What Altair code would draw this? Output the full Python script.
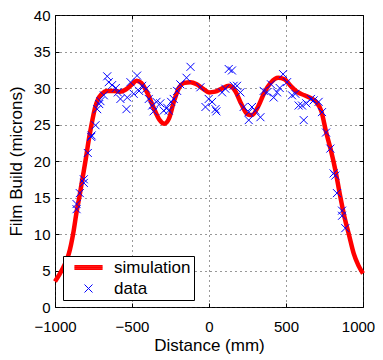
import altair as alt
import pandas as pd

FONT = "Liberation Sans"

# simulation curve
sim_x = [-1000, -970, -940, -910, -880, -860, -840, -820, -800, -780, -760, -740, -720, -700,
         -660, -620, -580, -540, -500, -470, -440, -400, -360, -320, -290, -260, -230, -200,
         -160, -120, -80, -40, 0, 40, 80, 130, 170, 210, 250, 280, 320, 360, 400, 450, 490,
         530, 570, 620, 670, 700, 730, 760, 790, 820, 850, 880, 910, 940, 970, 1000]
sim_y = [3.5, 4.5, 5.7, 7.3, 10.3, 13.0, 15.3, 17.8, 20.3, 23.0, 25.3, 27.3, 28.5, 29.1,
         29.6, 29.6, 29.5, 29.8, 30.5, 31.0, 30.7, 29.3, 27.3, 25.6, 25.1, 25.8, 28.0, 29.8,
         30.7, 30.8, 30.5, 29.9, 29.4, 29.5, 29.9, 30.3, 29.6, 27.8, 26.4, 26.3, 27.5, 29.4,
         30.7, 31.4, 31.2, 30.3, 29.5, 29.0, 28.5, 28.0, 26.8, 24.0, 21.6, 18.8, 15.4, 12.3,
         9.8, 7.3, 5.7, 4.6]

# measured data
data_x = [-860, -860, -839, -813, -813, -787, -765, -762, -737, -726, -713, -705, -683,
          -661, -651, -629, -605, -592, -575, -536, -531, -510, -489, -467, -454, -434,
          -408, -391, -369, -360, -341, -316, -294, -272, -261, -246, -229, -207, -186,
          -146, -120, -56, -23, -2, 20, 42, 48, 85, 106, 128, 149, 160, 182, 204, 225, 258,
          258, 279, 301, 334, 355, 377, 403, 420, 442, 459, 481, 507, 539, 561, 582, 604,
          615, 632, 662, 679, 712, 734, 760, 788, 809, 820, 831, 864, 864, 885]
data_y = [14.1, 13.4, 15.6, 17.5, 17.0, 21.1, 23.3, 23.5, 24.9, 27.1, 27.8, 28.2, 29.0,
          31.6, 30.8, 30.4, 30.0, 29.4, 28.5, 27.1, 28.7, 30.8, 29.2, 31.7, 29.6, 30.3,
          29.9, 28.5, 27.6, 26.8, 28.1, 27.9, 26.9, 27.3, 26.9, 28.1, 28.5, 29.6, 30.5,
          31.4, 32.9, 30.1, 27.4, 28.5, 28.1, 27.1, 26.8, 29.4, 29.9, 32.6, 32.4, 30.3,
          30.3, 29.4, 27.4, 26.7, 25.6, 27.4, 26.9, 26.0, 29.6, 29.4, 30.5, 28.7, 29.4,
          30.0, 31.9, 30.8, 29.0, 29.2, 27.6, 27.6, 25.6, 27.9, 28.5, 28.3, 28.1, 26.7,
          23.9, 21.7, 18.3, 18.0, 15.6, 13.2, 12.5, 10.8]

series_names = ["simulation", "data"]
series_colors = ["#ff0000", "#0000ff"]
x_ticks = [-1000, -500, 0, 500, 1000]
y_ticks = [0, 5, 10, 15, 20, 25, 30, 35, 40]

sim_df = pd.DataFrame({"x": sim_x, "y": sim_y, "series": "simulation"})
data_df = pd.DataFrame({"x": data_x, "y": data_y, "series": "data"})

xscale = alt.Scale(domain=[-1000, 1000], nice=False, zero=False)
yscale = alt.Scale(domain=[0, 40], nice=False)
color_scale = alt.Scale(domain=series_names, range=series_colors)
# legend glyphs: a thick bar (stacked strokes) for the line, an "x" for the data
bar_path = "".join(f"M-3.5,{v}L3.5,{v}" for v in (-0.5, -0.33, -0.17, 0, 0.17, 0.33, 0.5))
shape_scale = alt.Scale(domain=series_names, range=[bar_path, "M-1,-1L1,1M-1,1L1,-1"])

grid_style = dict(grid=True, gridColor="#333333", gridDash=[1, 4], gridWidth=1)

main_x = alt.Axis(orient="bottom", values=x_ticks, format="d", ticks=False, tickSize=0,
                  domain=False, labelFontSize=15, labelPadding=12, labelFont=FONT,
                  labelColor="black", labelFlush=False, labelOverlap=False,
                  labelOffset={"condition": {"test": "datum.value === 1000", "value": -5},
                               "value": 0},
                  title="Distance (mm)", titleFont=FONT, titleFontSize=17,
                  titleFontWeight="normal", titleColor="black", titlePadding=3, **grid_style)
main_y = alt.Axis(orient="left", values=y_ticks, format="d", ticks=False, tickSize=0,
                  domain=False, labelFontSize=15, labelPadding=5, labelFont=FONT,
                  labelColor="black", labelFlush=False, labelOverlap=False,
                  title="Film Build (microns)", titleFont=FONT, titleFontSize=17,
                  titleFontWeight="normal", titleColor="black", titlePadding=8, **grid_style)

def tick_axis(orient, vals):
    return alt.Axis(orient=orient, values=vals, labels=False, title=None, grid=False,
                    domain=False, ticks=True, tickSize=4, offset=-4, tickColor="black",
                    tickWidth=1)

legend = alt.Legend(orient="none", legendX=8, legendY=241, title=None, fillColor="white",
                    strokeColor="black", padding=3, symbolOffset=14, labelOffset=17,
                    labelFontSize=17, labelFont=FONT, labelColor="black", rowPadding=3,
                    symbolStrokeWidth=1, symbolSize=64, symbolOpacity=1)

line = alt.Chart(sim_df).mark_line(strokeWidth=4.5, interpolate="monotone").encode(
    x=alt.X("x:Q", scale=xscale, axis=main_x),
    y=alt.Y("y:Q", scale=yscale, axis=main_y),
    color=alt.Color("series:N", scale=color_scale, legend=legend),
)

pts = alt.Chart(data_df).mark_point(filled=False, size=64, strokeWidth=1, opacity=1).encode(
    x=alt.X("x:Q", scale=xscale, axis=tick_axis("top", x_ticks)),
    y=alt.Y("y:Q", scale=yscale, axis=tick_axis("right", y_ticks)),
    color=alt.Color("series:N", scale=color_scale, legend=legend),
    shape=alt.Shape("series:N", scale=shape_scale, legend=legend),
)

ticks_layer = alt.Chart(data_df).mark_point(opacity=0).encode(
    x=alt.X("x:Q", scale=xscale, axis=tick_axis("bottom", x_ticks)),
    y=alt.Y("y:Q", scale=yscale, axis=tick_axis("left", y_ticks)),
)

chart = alt.layer(line, pts, ticks_layer).resolve_axis(
    x="independent", y="independent"
).properties(
    width=308, height=292,
    autosize=alt.AutoSizeParams(type="none"),
    padding={"left": 47, "top": 7, "right": 12, "bottom": 50},
).configure_view(stroke="black", strokeWidth=1)

chart.save("out.html", embed_options={"renderer": "svg", "actions": False})
